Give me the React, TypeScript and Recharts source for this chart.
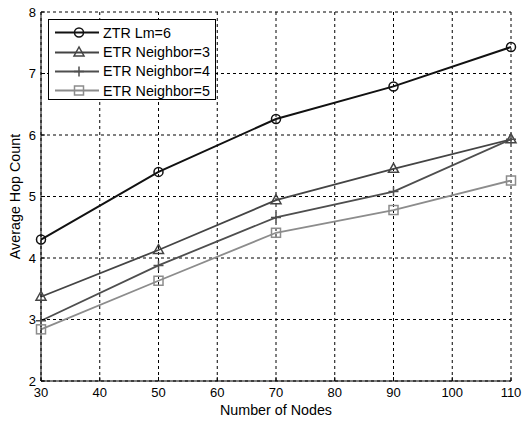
import { LineChart, Line, XAxis, YAxis, CartesianGrid, Legend } from "recharts"

const nodes = [30, 50, 70, 90, 110]
const ztrLm6 = [4.3, 5.4, 6.26, 6.79, 7.43]
const etrNeighbor3 = [3.37, 4.13, 4.94, 5.45, 5.93]
const etrNeighbor4 = [2.98, 3.88, 4.66, 5.08, 5.93]
const etrNeighbor5 = [2.84, 3.63, 4.41, 4.78, 5.26]
const xTicks = [30, 40, 50, 60, 70, 80, 90, 100, 110]
const yTicks = [2, 3, 4, 5, 6, 7, 8]

const series = [
  { key: "ztr", name: "ZTR Lm=6", color: "#111111", marker: "circle", width: 2, values: ztrLm6 },
  { key: "etr3", name: "ETR Neighbor=3", color: "#444444", marker: "triangle", width: 1.8, values: etrNeighbor3 },
  { key: "etr4", name: "ETR Neighbor=4", color: "#4e4e4e", marker: "plus", width: 1.8, values: etrNeighbor4 },
  { key: "etr5", name: "ETR Neighbor=5", color: "#8c8c8c", marker: "square", width: 1.8, values: etrNeighbor5 },
]

const data = nodes.map((n, i) => {
  const row: Record<string, number> = { nodes: n }
  series.forEach((s) => (row[s.key] = s.values[i]))
  return row
})

const font = "'Liberation Sans', Arial, Helvetica, sans-serif"

function Marker({ cx, cy, shape, color }: { cx: number; cy: number; shape: string; color: string }) {
  const sw = 1.5
  if (shape === "circle") return <circle cx={cx} cy={cy} r={4.5} fill="none" stroke={color} strokeWidth={sw} />
  if (shape === "triangle")
    return (
      <polygon
        points={`${cx},${cy - 5.5} ${cx - 5},${cy + 3.5} ${cx + 5},${cy + 3.5}`}
        fill="none"
        stroke={color}
        strokeWidth={sw}
      />
    )
  if (shape === "plus")
    return <path d={`M${cx - 5},${cy}H${cx + 5}M${cx},${cy - 5}V${cy + 5}`} stroke={color} strokeWidth={sw} />
  return <rect x={cx - 4.5} y={cy - 4.5} width={9} height={9} fill="none" stroke={color} strokeWidth={sw} />
}

function LegendBox() {
  return (
    <div
      style={{
        width: 168,
        height: 81,
        boxSizing: "border-box",
        border: "1px solid #000",
        background: "#fff",
        paddingTop: 3,
        fontFamily: font,
        fontSize: 14.3,
      }}
    >
      {series.map((s) => (
        <div key={s.key} style={{ display: "flex", alignItems: "center", height: 19.4 }}>
          <svg width={52} height={19}>
            <line x1={6} x2={50} y1={9.5} y2={9.5} stroke={s.color} strokeWidth={s.width} />
            <Marker cx={30} cy={9.5} shape={s.marker} color={s.color} />
          </svg>
          <span style={{ color: "#000", marginLeft: 2 }}>{s.name}</span>
        </div>
      ))}
    </div>
  )
}

export default function App() {
  const tickStyle = { fill: "#000", fontSize: 13, fontFamily: font }
  return (
    <div style={{ position: "absolute", left: 0, top: 0, background: "#fff" }}>
      <LineChart width={523} height={421} data={data} margin={{ top: 12, right: 12, bottom: 0, left: 0 }}>
        <CartesianGrid stroke="#000" strokeDasharray="3 3" strokeWidth={1} />
        <XAxis
          dataKey="nodes"
          type="number"
          domain={[30, 110]}
          ticks={xTicks}
          interval={0}
          height={40}
          stroke="#000"
          tickSize={-4}
          tickMargin={11}
          tick={tickStyle}
          label={{ value: "Number of Nodes", position: "insideBottom", offset: 6, fill: "#000", fontSize: 14.3, fontFamily: font }}
        />
        <XAxis
          xAxisId="top"
          orientation="top"
          type="number"
          domain={[30, 110]}
          ticks={xTicks}
          height={0}
          stroke="#000"
          tickSize={-4}
          tick={false}
        />
        <YAxis
          type="number"
          domain={[2, 8]}
          ticks={yTicks}
          interval={0}
          width={41}
          stroke="#000"
          tickSize={-4}
          tickMargin={9}
          tick={tickStyle}
          label={{
            value: "Average Hop Count",
            angle: -90,
            position: "insideLeft",
            offset: 15,
            fill: "#000",
            fontSize: 14.3,
            fontFamily: font,
            style: { textAnchor: "middle" },
          }}
        />
        <YAxis
          yAxisId="right"
          orientation="right"
          type="number"
          domain={[2, 8]}
          ticks={yTicks}
          width={0}
          stroke="#000"
          tickSize={-4}
          tick={false}
        />
        <Legend
          layout="vertical"
          align="center"
          verticalAlign="middle"
          wrapperStyle={{ left: 48, top: 19, width: 168 }}
          content={() => <LegendBox />}
        />
        {series.map((s) => (
          <Line
            key={s.key}
            dataKey={s.key}
            name={s.name}
            stroke={s.color}
            strokeWidth={s.width}
            isAnimationActive={false}
            dot={(p: any) => <Marker key={`${s.key}-${p.index}`} cx={p.cx} cy={p.cy} shape={s.marker} color={s.color} />}
            activeDot={false}
          />
        ))}
      </LineChart>
    </div>
  )
}
